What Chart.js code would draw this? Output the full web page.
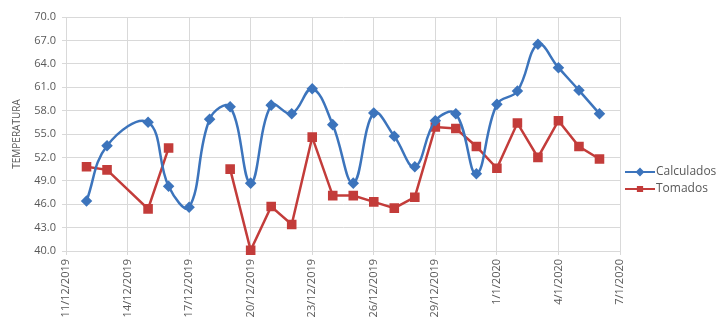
<!DOCTYPE html>
<html>
<head>
<meta charset="utf-8">
<script src="https://cdn.jsdelivr.net/npm/chart.js@4.4.0/dist/chart.umd.min.js"></script>
<style>
  html, body { margin: 0; padding: 0; background: #fff; }
  #wrap { width: 718px; height: 322px; }
</style>
</head>
<body>
<div id="wrap"><canvas id="chart" width="718" height="322"></canvas></div>
<script>
const fechas = ['12/12/2019', '13/12/2019', '15/12/2019', '16/12/2019', '17/12/2019', '18/12/2019',
  '19/12/2019', '20/12/2019', '21/12/2019', '22/12/2019', '23/12/2019', '24/12/2019', '25/12/2019',
  '26/12/2019', '27/12/2019', '28/12/2019', '29/12/2019', '30/12/2019', '31/12/2019', '1/1/2020',
  '2/1/2020', '3/1/2020', '4/1/2020', '5/1/2020', '6/1/2020'];

const calculados = [46.4, 53.5, 56.5, 48.3, 45.6, 56.9, 58.5, 48.7, 58.7, 57.6, 60.8, 56.2, 48.7,
  57.7, 54.7, 50.8, 56.7, 57.6, 49.9, 58.8, 60.5, 66.5, 63.5, 60.6, 57.6];

const tomados = [50.8, 50.4, 45.4, 53.2, null, null, 50.5, 40.1, 45.7, 43.4, 54.6, 47.1, 47.1,
  46.3, 45.5, 46.9, 55.9, 55.7, 53.4, 50.6, 56.4, 52.0, 56.7, 53.4, 51.8];

const inicio = '11/12/2019';
const fin = '7/1/2020';

const DAY = 86400000;
function toDate(s) {
  const p = s.split('/');
  return Date.UTC(+p[2], +p[1] - 1, +p[0]);
}
function dayNum(s) {
  return Math.round((toDate(s) - toDate(inicio)) / DAY);
}
function dayLabel(n) {
  const d = new Date(toDate(inicio) + n * DAY);
  return d.getUTCDate() + '/' + (d.getUTCMonth() + 1) + '/' + d.getUTCFullYear();
}

const blue = '#3c74bc';
const red = '#c33c3a';
const grey = '#595959';

const serieCalc = {
  label: 'Calculados',
  data: fechas.map((f, i) => ({ x: dayNum(f), y: calculados[i] })),
  borderColor: blue,
  backgroundColor: blue,
  borderWidth: 2.5,
  pointStyle: 'rectRot',
  pointRadius: 4,
  pointHoverRadius: 4,
  tension: 0.4,
  clip: false
};

const serieTom = {
  label: 'Tomados',
  data: fechas.map((f, i) => ({ x: dayNum(f), y: tomados[i] })),
  borderColor: red,
  backgroundColor: red,
  borderWidth: 2.5,
  pointStyle: 'rect',
  pointRadius: 5,
  pointHoverRadius: 5,
  tension: 0,
  spanGaps: false,
  clip: false
};

// legend at the right, drawn like Excel's (line + marker)
const sideLegend = {
  id: 'sideLegend',
  afterDraw(chart) {
    const ctx = chart.ctx;
    const x0 = 625, y0 = 172, gap = 17;
    ctx.save();
    chart.data.datasets.forEach((ds, i) => {
      const y = y0 + i * gap;
      ctx.strokeStyle = ds.borderColor;
      ctx.lineWidth = 2;
      ctx.beginPath();
      ctx.moveTo(x0, y);
      ctx.lineTo(x0 + 30, y);
      ctx.stroke();
      Chart.helpers.drawPoint(ctx, { pointStyle: ds.pointStyle, radius: 3, borderWidth: 1 }, x0 + 15, y);
      ctx.fillStyle = ds.borderColor;
      ctx.fill();
      ctx.fillStyle = grey;
      ctx.font = '12px "Open Sans"';
      ctx.textBaseline = 'middle';
      ctx.textAlign = 'left';
      ctx.fillText(ds.label, x0 + 31, y);
    });
    ctx.restore();
  }
};

new Chart(document.getElementById('chart'), {
  type: 'line',
  data: { datasets: [serieCalc, serieTom] },
  plugins: [sideLegend],
  options: {
    responsive: false,
    animation: false,
    layout: { padding: { top: 17, right: 98, left: 0, bottom: 0 } },
    plugins: {
      legend: { display: false },
      tooltip: { enabled: false }
    },
    scales: {
      x: {
        type: 'linear',
        min: 0,
        max: dayNum(fin),
        grid: { color: '#d9d9d9', tickLength: 4 },
        border: { color: '#d9d9d9' },
        afterFit: s => { s.height = 71; },
        ticks: {
          stepSize: 3,
          autoSkip: false,
          maxRotation: 90,
          minRotation: 90,
          padding: 4,
          color: grey,
          font: { family: 'Open Sans', size: 11 },
          callback: v => dayLabel(v)
        }
      },
      y: {
        min: 40,
        max: 70,
        grid: { color: '#d9d9d9', tickLength: 4 },
        border: { color: '#d9d9d9' },
        afterFit: s => { s.width = 66; },
        title: {
          display: true,
          text: 'TEMPERATURA',
          color: grey,
          font: { family: 'Open Sans', size: 10 },
          padding: { top: 11, bottom: 0 }
        },
        ticks: {
          stepSize: 3,
          padding: 6,
          color: grey,
          font: { family: 'Open Sans', size: 11 },
          callback: v => v.toFixed(1)
        }
      }
    }
  }
});
</script>
</body>
</html>
